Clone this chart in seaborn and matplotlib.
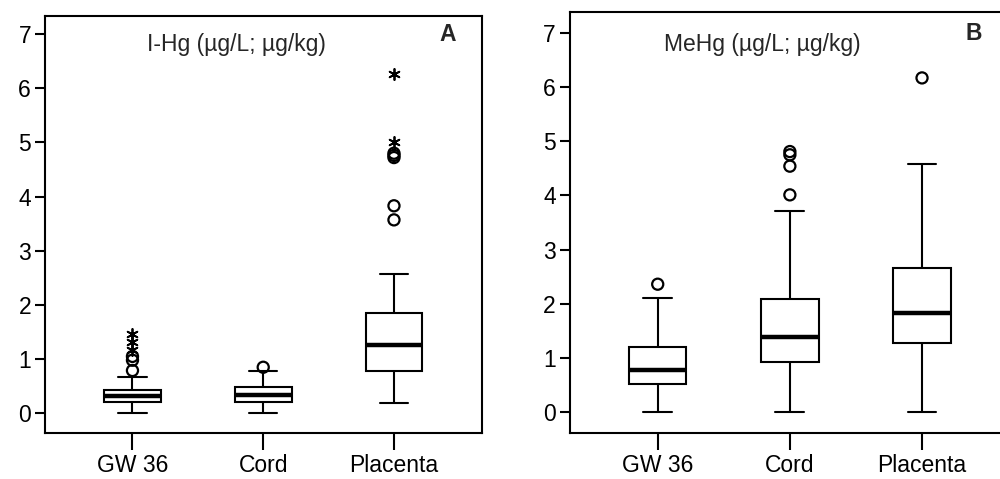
import matplotlib
matplotlib.use("Agg")
import matplotlib.pyplot as plt
import pandas as pd
import seaborn as sns

# Groups on the x axis
categories = ["GW 36", "Cord", "Placenta"]

# Five-number summaries per group: lower whisker, Q1, median, Q3, upper whisker
ihg_low = [0.0, 0.0, 0.185]
ihg_q1 = [0.214, 0.214, 0.79]
ihg_median = [0.325, 0.338, 1.255]
ihg_q3 = [0.43, 0.48, 1.856]
ihg_high = [0.67, 0.79, 2.57]

mehg_low = [0.0, 0.0, 0.0]
mehg_q1 = [0.52, 0.927, 1.273]
mehg_median = [0.774, 1.389, 1.827]
mehg_q3 = [1.205, 2.09, 2.653]
mehg_high = [2.10, 3.717, 4.58]

# Outliers (open circles) and extreme values (asterisks)
ihg_outlier_group = ["GW 36", "GW 36", "GW 36", "Cord",
                     "Placenta", "Placenta", "Placenta", "Placenta", "Placenta"]
ihg_outlier_value = [0.79, 0.98, 1.05, 0.85, 3.57, 3.83, 4.72, 4.76, 4.80]
ihg_extreme_group = ["GW 36", "GW 36", "GW 36", "Placenta", "Placenta"]
ihg_extreme_value = [1.17, 1.31, 1.47, 5.01, 6.27]

mehg_outlier_group = ["GW 36", "Cord", "Cord", "Cord", "Cord", "Placenta"]
mehg_outlier_value = [2.36, 4.01, 4.54, 4.75, 4.81, 6.17]
mehg_extreme_group = []
mehg_extreme_value = []

panel_titles = ["I-Hg (µg/L; µg/kg)", "MeHg (µg/L; µg/kg)"]
panel_letters = ["A", "B"]

sns.set_style("ticks")
plt.rcParams["font.family"] = ["Liberation Sans", "DejaVu Sans"]
plt.rcParams["font.size"] = 16.5

fig = plt.figure(figsize=(10, 4.79), dpi=100)
ax_a = fig.add_axes([0.045, 0.0954, 0.4367, 0.8718])
ax_b = fig.add_axes([0.5697, 0.0967, 0.4303, 0.8789])


def summary_frame(lo, q1, med, q3, hi):
    rows = []
    for i, cat in enumerate(categories):
        for v in (lo[i], q1[i], med[i], q3[i], hi[i]):
            rows.append({"group": cat, "value": v})
    return pd.DataFrame(rows)


def draw_panel(ax, stats, out_g, out_v, ext_g, ext_v, title, letter,
               xlim, ylim, title_xy, letter_xy, show_right):
    df = summary_frame(*stats)
    sns.boxplot(data=df, x="group", y="value", order=categories,
                whis=(0, 100), width=0.435, color="white", linecolor="black",
                linewidth=1.5, showfliers=False, saturation=1,
                medianprops=dict(linewidth=3.2, color="black"), ax=ax)
    if out_v:
        fl = pd.DataFrame({"group": out_g, "value": out_v})
        sns.stripplot(data=fl, x="group", y="value", order=categories,
                      jitter=False, marker="o", size=8, facecolor="none",
                      edgecolor="black", linewidth=1.6, ax=ax, zorder=5)
    if ext_v:
        ex = pd.DataFrame({"group": ext_g, "value": ext_v})
        sns.stripplot(data=ex, x="group", y="value", order=categories,
                      jitter=False, marker=(6, 2, 0), size=8, color="black",
                      edgecolor="black", linewidth=1.3, ax=ax, zorder=5)
    ax.set_xlim(*xlim)
    ax.set_ylim(*ylim)
    ax.set_yticks(range(0, 8))
    ax.set_xlabel("")
    ax.set_ylabel("")
    for side in ("left", "bottom", "top", "right"):
        ax.spines[side].set_visible(True)
        ax.spines[side].set_linewidth(1.5)
        ax.spines[side].set_color("black")
    if not show_right:
        ax.spines["right"].set_visible(False)
    ax.tick_params(axis="y", length=7, width=1.5, pad=3, labelsize=16.5,
                   colors="black")
    ax.tick_params(axis="x", length=12.5, width=1.5, pad=2.5, labelsize=16.5,
                   colors="black")
    ax.text(*title_xy, title, transform=ax.transAxes, ha="center",
            va="center", fontsize=16.5)
    ax.text(*letter_xy, letter, transform=ax.transAxes, ha="center",
            va="center", fontsize=16.5, fontweight="bold")


draw_panel(ax_a, (ihg_low, ihg_q1, ihg_median, ihg_q3, ihg_high),
           ihg_outlier_group, ihg_outlier_value,
           ihg_extreme_group, ihg_extreme_value,
           panel_titles[0], panel_letters[0],
           (-0.669, 2.671), (-0.369, 7.338), (0.4385, 0.930), (0.922, 0.954),
           True)
draw_panel(ax_b, (mehg_low, mehg_q1, mehg_median, mehg_q3, mehg_high),
           mehg_outlier_group, mehg_outlier_value,
           mehg_extreme_group, mehg_extreme_value,
           panel_titles[1], panel_letters[1],
           (-0.666, 2.59), (-0.382, 7.393), (0.447, 0.921), (0.938, 0.949),
           False)

fig.savefig("out.png", dpi=100)
